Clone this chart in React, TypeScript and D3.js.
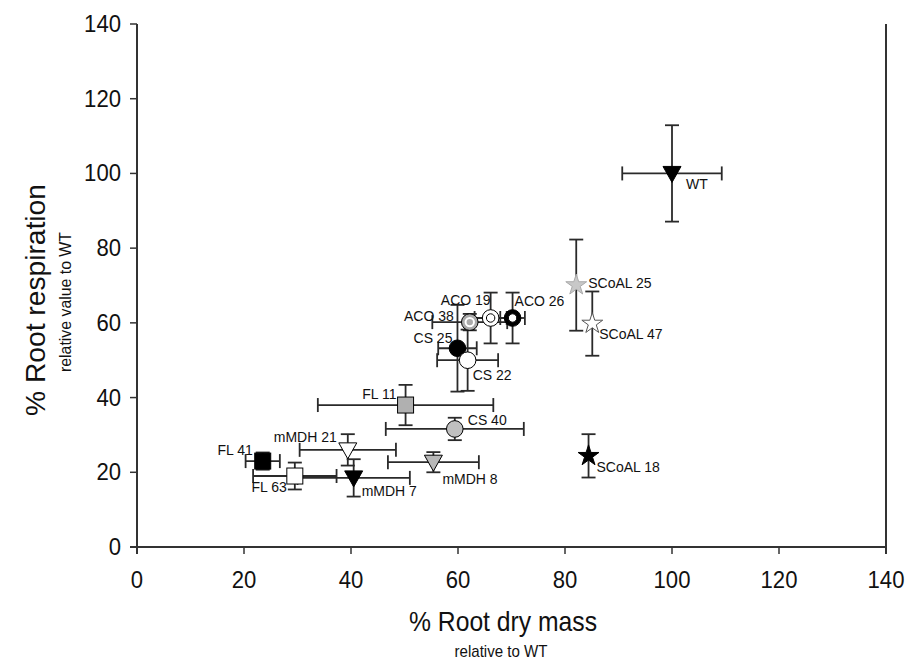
import React from "react";
import * as d3 from "d3";

const names = ["WT", "SCoAL 25", "SCoAL 47", "SCoAL 18", "ACO 38", "ACO 19", "ACO 26", "CS 25", "CS 22", "FL 11", "CS 40", "mMDH 21", "mMDH 7", "FL 41", "FL 63", "mMDH 8"];
const rootMass = [100, 82.1, 85.1, 84.4, 62.2, 66.1, 70.2, 59.9, 61.8, 50.2, 59.4, 39.4, 40.5, 23.5, 29.5, 55.4];
const rootResp = [100, 70.1, 59.8, 24.4, 60.2, 61.3, 61.3, 53.2, 50.0, 38.0, 31.6, 26.0, 18.5, 23.0, 19.0, 22.7];
const massErr = [9.3, 0, 0, 0, 7.0, 3.0, 2.3, 3.6, 5.7, 16.4, 12.9, 9.0, 10.5, 3.2, 7.8, 8.5];
const respErr = [12.9, 12.2, 8.6, 5.8, 2.2, 6.8, 6.8, 11.6, 8.2, 5.4, 3.0, 4.2, 5.0, 2.3, 3.6, 2.7];
const xTicks = [0, 20, 40, 60, 80, 100, 120, 140];
const yTicks = [0, 20, 40, 60, 80, 100, 120, 140];

type Sty = { shape: string; fill: string; inner?: string };
const styles: Record<string, Sty> = {
  "WT": { shape: "tri", fill: "#000" },
  "SCoAL 25": { shape: "star", fill: "#c8c8c8" },
  "SCoAL 47": { shape: "star", fill: "#fff" },
  "SCoAL 18": { shape: "star", fill: "#000" },
  "ACO 38": { shape: "ring", fill: "#aaa", inner: "#aaa" },
  "ACO 19": { shape: "ring", fill: "#fff", inner: "#fff" },
  "ACO 26": { shape: "ring", fill: "#000", inner: "#fff" },
  "CS 25": { shape: "circle", fill: "#000" },
  "CS 22": { shape: "circle", fill: "#fff" },
  "FL 11": { shape: "square", fill: "#b0b0b0" },
  "CS 40": { shape: "circle", fill: "#c0c0c0" },
  "mMDH 21": { shape: "tri", fill: "#fff" },
  "mMDH 7": { shape: "tri", fill: "#000" },
  "FL 41": { shape: "square", fill: "#000" },
  "FL 63": { shape: "square", fill: "#fff" },
  "mMDH 8": { shape: "tri", fill: "#b8b8b8" },
};

// label placement relative to the point: [anchor, dx, dy]
const labelPos: Record<string, [string, number, number]> = {
  "WT": ["start", 14, 11],
  "SCoAL 25": ["start", 12, -2],
  "SCoAL 47": ["start", 7, 10],
  "SCoAL 18": ["start", 8, 11],
  "ACO 38": ["end", -16, -6],
  "ACO 19": ["end", 0, -18],
  "ACO 26": ["start", 2, -17],
  "CS 25": ["end", -5, -10],
  "CS 22": ["start", 5, 15],
  "FL 11": ["end", -9, -11],
  "CS 40": ["start", 13, -9],
  "mMDH 21": ["end", -11, -13],
  "mMDH 7": ["start", 8, 13],
  "FL 41": ["end", -10, -11],
  "FL 63": ["end", -8, 11],
  "mMDH 8": ["start", 9, 17],
};

const W = 918, H = 660;
const x = d3.scaleLinear().domain([0, 140]).range([137, 886]);
const y = d3.scaleLinear().domain([0, 140]).range([547, 24]);
const FONT = "'Liberation Sans', Arial, sans-serif";
const CAP = 7;
const EC = "#2a2a2a";

function Marker({ name, cx, cy }: { name: string; cx: number; cy: number }) {
  const s = styles[name];
  const stroke = "#000";
  if (s.shape === "circle") return <circle cx={cx} cy={cy} r={8.3} fill={s.fill} stroke={stroke} strokeWidth={1} />;
  if (s.shape === "square") return <rect x={cx - 8} y={cy - 8} width={16} height={16} fill={s.fill} stroke={stroke} strokeWidth={1} />;
  if (s.shape === "tri") {
    const p = `M${cx - 9},${cy - 7}L${cx + 9},${cy - 7}L${cx},${cy + 9}Z`;
    return <path d={p} fill={s.fill} stroke={stroke} strokeWidth={1} />;
  }
  if (s.shape === "star") {
    const d = d3.symbol().type(d3.symbolStar).size(135)() as string;
    return <path d={d} transform={`translate(${cx},${cy})`} fill={s.fill} stroke={s.fill === "#fff" ? "#555" : s.fill === "#000" ? "#000" : "#aaa"} strokeWidth={1} />;
  }
  return (
    <g>
      <circle cx={cx} cy={cy} r={8.3} fill={s.fill} stroke={stroke} strokeWidth={1} />
      <circle cx={cx} cy={cy} r={4.2} fill={s.inner} stroke={name === "ACO 38" ? "#fff" : "#000"} strokeWidth={name === "ACO 38" ? 2 : 1} />
    </g>
  );
}

export default function App() {
  const pts = names.map((n, i) => ({ n, cx: x(rootMass[i]), cy: y(rootResp[i]), i }));
  return (
    <svg width={W} height={H} style={{ position: "absolute", left: 0, top: 0, background: "#fff" }} fontFamily={FONT}>
      <rect width={W} height={H} fill="#fff" />
      <line x1={x(0)} x2={x(0)} y1={y(140)} y2={y(0) + 7} stroke="#333" strokeWidth={2} />
      <line x1={x(0) - 7} x2={x(140)} y1={y(0)} y2={y(0)} stroke="#333" strokeWidth={2} />
      <line x1={x(140)} x2={x(140)} y1={y(140)} y2={y(0) + 7} stroke="#333" strokeWidth={2} />
      {yTicks.map((t) => (
        <g key={"y" + t}>
          <line x1={x(0) - 7} x2={x(0)} y1={y(t)} y2={y(t)} stroke="#333" strokeWidth={1.5} />
          <text x={x(0) - 16} y={y(t)} textAnchor="end" dominantBaseline="central" fontSize={23} fill="#111"
            textLength={String(t).length * 12.3} lengthAdjust="spacingAndGlyphs">{t}</text>
        </g>
      ))}
      {xTicks.map((t) => (
        <g key={"x" + t}>
          <line x1={x(t)} x2={x(t)} y1={y(0)} y2={y(0) + 7} stroke="#333" strokeWidth={1.5} />
          <text x={x(t)} y={y(0) + 33} textAnchor="middle" dominantBaseline="central" fontSize={23} fill="#111"
            textLength={String(t).length * 12.3} lengthAdjust="spacingAndGlyphs">{t}</text>
        </g>
      ))}
      <text x={503} y={621} textAnchor="middle" dominantBaseline="central" fontSize={28} fill="#111"
        textLength={188} lengthAdjust="spacingAndGlyphs">% Root dry mass</text>
      <text x={501} y={651} textAnchor="middle" dominantBaseline="central" fontSize={17} fill="#111"
        textLength={93} lengthAdjust="spacingAndGlyphs">relative to WT</text>
      <text transform={`translate(35,${300}) rotate(-90)`} textAnchor="middle" dominantBaseline="central" fontSize={28} fill="#111"
        textLength={232} lengthAdjust="spacingAndGlyphs">% Root respiration</text>
      <text transform={`translate(65,${302}) rotate(-90)`} textAnchor="middle" dominantBaseline="central" fontSize={17} fill="#111"
        textLength={140} lengthAdjust="spacingAndGlyphs">relative value to WT</text>

      {pts.map(({ n, cx, cy, i }) => {
        const xe = massErr[i], ye = respErr[i];
        const x0 = x(rootMass[i] - xe), x1 = x(rootMass[i] + xe);
        const y0 = y(rootResp[i] - ye), y1 = y(rootResp[i] + ye);
        return (
          <g key={"e" + n} stroke={EC} strokeWidth={1.8}>
            {xe > 0 && (
              <>
                <line x1={x0} x2={x1} y1={cy} y2={cy} />
                <line x1={x0} x2={x0} y1={cy - CAP} y2={cy + CAP} />
                <line x1={x1} x2={x1} y1={cy - CAP} y2={cy + CAP} />
              </>
            )}
            {ye > 0 && (
              <>
                <line x1={cx} x2={cx} y1={y0} y2={y1} />
                <line x1={cx - CAP} x2={cx + CAP} y1={y0} y2={y0} />
                <line x1={cx - CAP} x2={cx + CAP} y1={y1} y2={y1} />
              </>
            )}
          </g>
        );
      })}
      {pts.map(({ n, cx, cy }) => <Marker key={"m" + n} name={n} cx={cx} cy={cy} />)}
      {pts.map(({ n, cx, cy }) => {
        const [a, dx, dy] = labelPos[n];
        return (
          <text key={"l" + n} x={cx + dx} y={cy + dy} textAnchor={a} dominantBaseline="central" fontSize={14} fill="#111">{n}</text>
        );
      })}
    </svg>
  );
}
